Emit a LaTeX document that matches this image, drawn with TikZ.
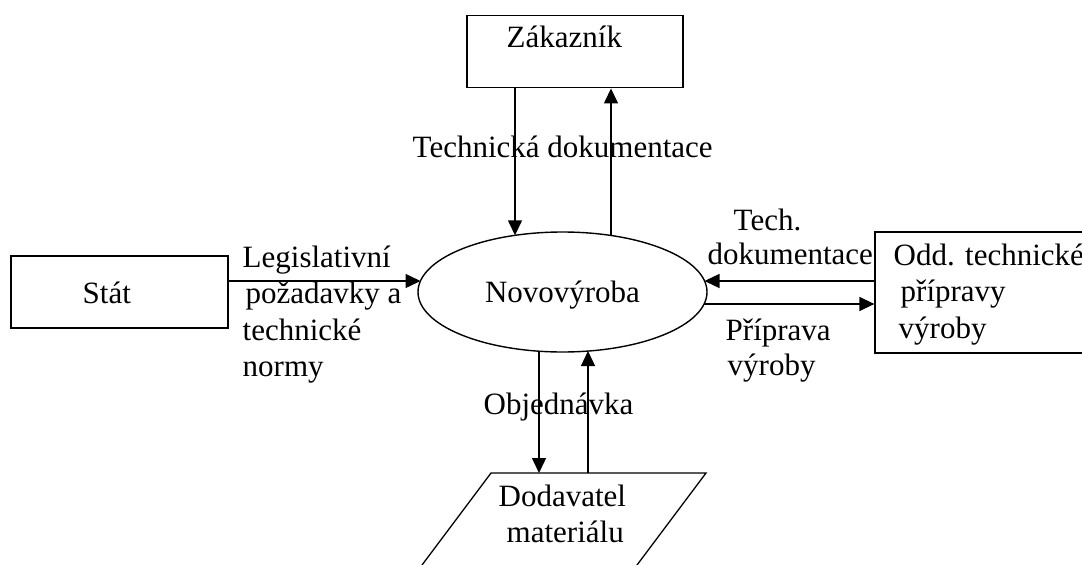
\documentclass[tikz,border=0pt]{standalone}
\usepackage{fontspec}
\setmainfont{Liberation Serif}
\usetikzlibrary{arrows.meta,shapes.geometric}

% multi-line label whose reference point is the first baseline
\newcommand\txtlines[2]{\fontsize{31}{#1}\selectfont\begin{tabular}[t]{@{}l@{}}#2\end{tabular}}

\begin{document}
\begin{tikzpicture}[x=1pt,y=-1pt,
  line width=1.4pt,
  flow/.style={-{Triangle[length=15pt,width=14pt]}},
  entity/.style={draw, rectangle, inner sep=0pt, line width=1.3pt},
  lbl/.style={anchor=base west, inner sep=0pt, font=\fontsize{31}{36}\selectfont}]
\useasboundingbox (0,0) rectangle (1082,565);
\clip (0,0) rectangle (1082,565);

% external entities and the process
\node[entity, minimum width=216pt, minimum height=72pt] (zak) at (575,51.8) {};
\node[entity, minimum width=217pt, minimum height=72pt] (stat) at (119.5,292) {};
\node[entity, minimum width=300pt, minimum height=121pt] (odd) at (1025,292.5) {};
\node[draw, ellipse, inner sep=0pt, minimum width=289pt, minimum height=120pt,
      text depth=0pt, font=\fontsize{31}{36}\selectfont] (nov) at (562.5,292) {Novovýroba};

% supplier (parallelogram running off the bottom edge)
\draw[line width=1.3pt] (395.75,600) -- (491,473) -- (706,473) -- (610.75,600);
\coordinate (dod) at (598,473);

% points on the ellipse where the flows meet it
\coordinate (eT1) at (515,235.3);
\coordinate (eT2) at (611,235.5);
\coordinate (eL)  at (420.5,281);
\coordinate (eR1) at (704.5,281);
\coordinate (eR2) at (704,304);
\coordinate (eB1) at (539,351.2);
\coordinate (eB2) at (588,351);

% flows
\draw[flow] (zak.south -| eT1) -- (eT1);
\draw[flow] (eT2) -- (zak.south -| eT2);
\draw[flow] (stat.east |- eL) -- (eL);
\draw[flow] (odd.west |- eR1) -- (eR1);
\draw[flow] (eR2) -- (odd.west |- eR2);
\draw[flow] (eB1) -- (dod -| eB1);
\draw[flow] (dod -| eB2) -- (eB2);

% labels
\node[lbl] (tzak) at (506,47) {Zákazník};
\node[lbl] (tstat) at (82,303) {Stát};
\node[lbl] (ttd) at (412,157) {Technická dokumentace};
\node[lbl] (ttech) at (707,230) {\txtlines{34}{\hspace{26pt}Tech.\\dokumentace}};
\node[lbl] (tleg) at (242,267) {\txtlines{36.5}{Legislativní\\\hspace{3pt}požadavky a\\technické\\normy}};
\node[lbl] (todd) at (893,265) {\txtlines{36.5}{Odd. technické\\\hspace{7pt}přípravy\\\hspace{5pt}výroby}};
\node[lbl] (tpri) at (725,340) {\txtlines{35}{Příprava\\\hspace{2pt}výroby}};
\node[lbl] (tobj) at (483,414) {Objednávka};
\node[lbl] (tdod) at (498,506) {\txtlines{36}{Dodavatel\\\hspace{8pt}materiálu}};
\end{tikzpicture}
\end{document}
